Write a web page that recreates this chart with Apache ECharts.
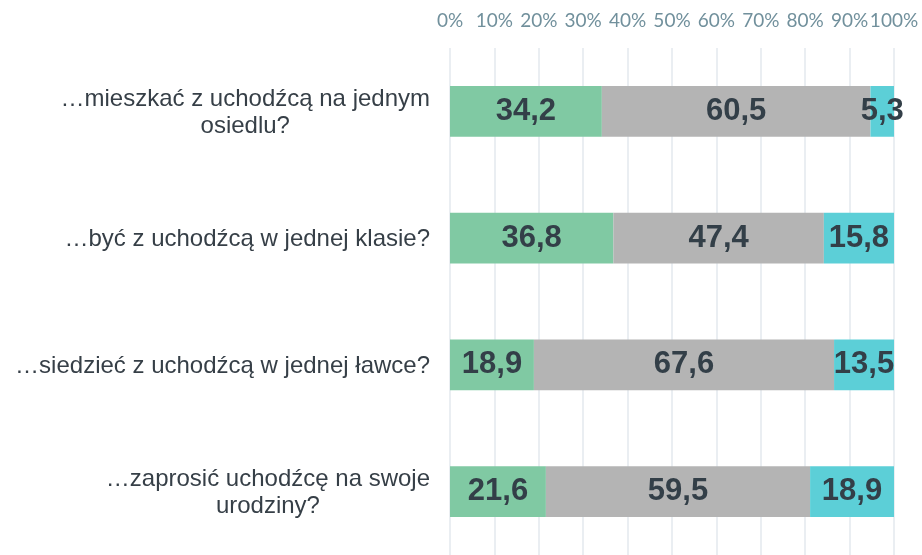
<!DOCTYPE html>
<html>
<head>
<meta charset="utf-8">
<script src="https://cdn.jsdelivr.net/npm/echarts@6/dist/echarts.min.js"></script>
<style>
  html, body { margin: 0; padding: 0; background: #fff; }
  #chart { width: 922px; height: 555px; }
</style>
</head>
<body>
<div id="chart"></div>
<script>
// pytania (od góry do dołu)
var categories = [
  '…mieszkać z uchodźcą na jednym\nosiedlu?',
  '…być z uchodźcą w jednej klasie?',
  '…siedzieć z uchodźcą w jednej ławce?',
  '…zaprosić uchodźcę na swoje\nurodziny?'
];
var greenValues = [34.2, 36.8, 18.9, 21.6];
var grayValues = [60.5, 47.4, 67.6, 59.5];
var tealValues = [5.3, 15.8, 13.5, 18.9];

var chart = echarts.init(document.getElementById('chart'));

function valueLabel() {
  return {
    show: true,
    position: 'inside',
    color: '#333f48',
    fontFamily: 'Arial, "Liberation Sans", sans-serif',
    fontWeight: 'bold',
    fontSize: 31,
    formatter: function (p) {
      return String(p.value).replace('.', ',');
    }
  };
}

function makeSeries(name, data, color) {
  return {
    name: name,
    type: 'bar',
    stack: 'total',
    data: data,
    barWidth: '40%',
    itemStyle: { color: color },
    label: valueLabel(),
    emphasis: { disabled: true }
  };
}

chart.setOption({
  animation: false,
  grid: { left: 450, right: 28, top: 48, bottom: -4, containLabel: false },
  xAxis: {
    type: 'value',
    position: 'top',
    min: 0,
    max: 100,
    interval: 10,
    axisLine: { show: false },
    axisTick: { show: false },
    splitLine: { lineStyle: { color: '#e3e8ee', width: 1.5 } },
    axisLabel: {
      formatter: '{value}%',
      color: '#71909c',
      fontFamily: 'Lato, "Open Sans", sans-serif',
      fontSize: 19,
      margin: 18,
      textMargin: 0,
      minMargin: 0,
      showMinLabel: true,
      showMaxLabel: true,
      hideOverlap: false
    }
  },
  yAxis: {
    type: 'category',
    inverse: true,
    data: categories,
    axisLine: { show: false },
    axisTick: { show: false },
    axisLabel: {
      margin: 20,
      formatter: function (v) {
        return v.split('\n').map(function (s) { return '{c|' + s + '}'; }).join('\n');
      },
      rich: {
        c: {
          align: 'center',
          color: '#363f47',
          fontFamily: 'Arial, "Liberation Sans", sans-serif',
          fontSize: 24,
          lineHeight: 27,
          padding: [2, 0, 0, 0]
        }
      }
    }
  },
  series: [
    makeSeries('tak', greenValues, '#80c9a3'),
    makeSeries('nie wiem', grayValues, '#b4b4b4'),
    makeSeries('nie', tealValues, '#5ccfd7')
  ]
});
</script>
</body>
</html>
